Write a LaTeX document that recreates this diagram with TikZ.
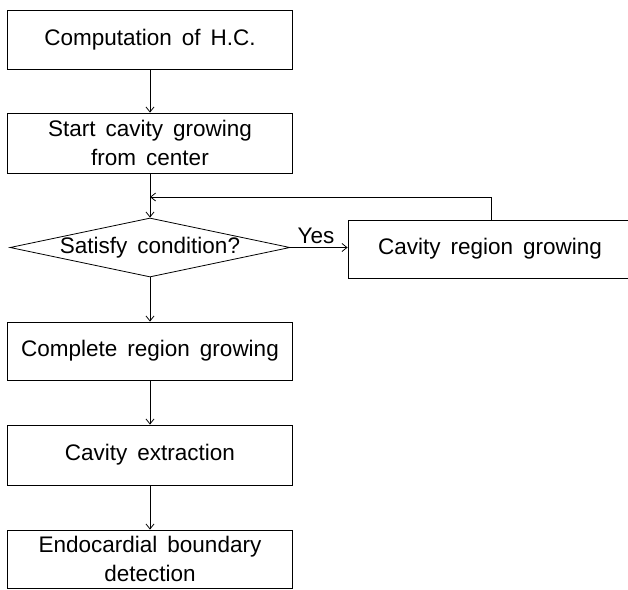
\documentclass[tikz,border=0pt]{standalone}
\usepackage{fontspec}
\setmainfont{Liberation Sans}[WordSpace=1.6]
\usetikzlibrary{shapes.geometric,arrows.meta}
\begin{document}
\begin{tikzpicture}[x=1pt,y=-1pt,
  line width=0.8pt,
  every node/.style={font=\fontsize{22.5}{29}\selectfont, inner sep=0pt, align=center},
  procbox/.style={draw, rectangle, minimum width=285pt},
  decbox/.style={draw, diamond, aspect=4.75, minimum width=280pt, minimum height=59pt},
  flow/.style={-{Straight Barb[length=5pt,width=8pt]}}]
\useasboundingbox (0,0) rectangle (628,589);
\clip (0,0) rectangle (628,589);
\node[procbox, minimum height=59pt] (b1) at (150,39.5) {Computation of H.C.};
\node[procbox, minimum height=60pt] (b2) at (150,143) {Start cavity growing\\from center};
\node[decbox] (d) at (150,247.5) {Satisfy condition?};
\node[procbox, minimum width=290pt, minimum height=58pt] (r) at (493,249) {\hspace*{-6pt}Cavity region growing};
\node[procbox, minimum height=58pt] (b3) at (150,351) {Complete region growing};
\node[procbox, minimum height=60pt] (b4) at (150,455) {Cavity extraction};
\node[procbox, minimum height=58pt] (b5) at (150,559) {Endocardial boundary\\detection};
\coordinate (lp) at (491,197);
\coordinate (lj) at (150,197);
\draw[flow] (b1) -- (b2);
\draw[flow] (b2) -- (d);
\draw[flow] (d.east) -- (r.west |- d.east) node[midway, above=3pt, xshift=-3pt] {Yes};
\draw[flow] (r.north -| lp) -- (lp) -- (lj);
\draw[flow] (d) -- (b3);
\draw[flow] (b3) -- (b4);
\draw[flow] (b4) -- (b5);
\end{tikzpicture}
\end{document}
